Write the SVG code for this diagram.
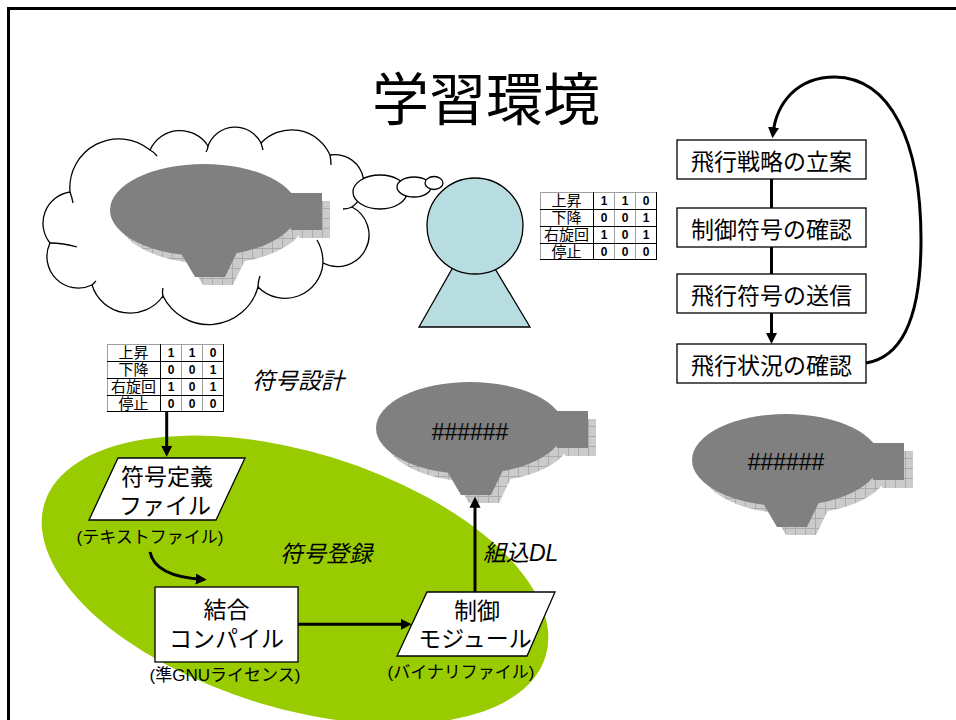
<svg xmlns="http://www.w3.org/2000/svg" width="956" height="720" viewBox="0 0 956 720">
<defs>
<style>
.t{font-family:"Liberation Sans","Noto Sans CJK JP",sans-serif;fill:#000}
.c{text-anchor:middle}
.title{font-size:57px}
.lbl{font-size:23px}
.sub{font-size:17px}
.it{font-size:23px;font-style:italic}
.hash{font-size:23px}
.cell{font-size:15px}
.num{font-size:12px;font-weight:bold}
.box{fill:#fff;stroke:#000;stroke-width:1.3}
.ship{fill:#808080}
.shadow{fill:url(#tex)}
.wire{fill:none;stroke:#000;stroke-width:3}
.arrow{marker-end:url(#ah)}
.gk{fill:none;stroke:#000;stroke-width:1}
.gg{fill:none;stroke:#a0a0a0;stroke-width:1}
.line{fill:none;stroke:#000;stroke-width:1.3}
.person{fill:#b8dde0;stroke:#000;stroke-width:1.3}
</style>
<pattern id="tex" width="10" height="10" patternUnits="userSpaceOnUse">
<rect width="10" height="10" fill="#cbcbcb"/>
<path d="M0 0.5H10M0.5 0V10" stroke="#acacac" stroke-width="1"/>
</pattern>
<marker id="ah" viewBox="0 0 10 10" refX="7" refY="5" markerWidth="3.7" markerHeight="3.7" orient="auto" markerUnits="strokeWidth">
<path d="M0 0L10 5L0 10z" fill="#000"/>
</marker>
<!-- airship outline: envelope, tail fin, gondola -->
<g id="hull">
<ellipse cx="0" cy="0" rx="94" ry="46"/>
<rect x="87" y="-17" width="31" height="37"/>
<polygon points="-26,38 35,38 21,67 -9,67"/>
</g>
</defs>

<!-- slide frame -->
<path d="M8.5 720V8.5H956" fill="none" stroke="#000" stroke-width="3"/>

<text class="t c title" x="486" y="120">学習環境</text>

<!-- thought cloud -->
<g id="thought-cloud">
<path class="box" d="M70,192 A49 49 0 0 1 150,150 A33 33 0 0 1 208,146 A29 29 0 0 1 261,143 A42 42 0 0 1 330,155 A29 29 0 0 1 352,207 A31.5 31.5 0 0 1 323,263 A38 38 0 0 1 258,287 A51 51 0 0 1 163,296 A40 40 0 0 1 92,285 A31.5 31.5 0 0 1 50,243 A31.5 31.5 0 0 1 70,192 Z"/>
<path class="line" d="M70,192 Q72,197 73,203 M150,150 Q154,152 157,156 M208,146 Q208,149 206,152 M261,143 Q262,146 263,150 M330,155 Q331,160 331,165 M352,207 Q348,209 343,209 M323,263 Q323,250 317,240 M258,287 Q258,281 260,276 M163,296 Q162,292 163,288 M92,285 Q94,283 96,281 M50,243 Q63,243 77,247"/>
<ellipse class="box" cx="380" cy="192" rx="27" ry="17"/>
<ellipse class="box" cx="414" cy="187" rx="17" ry="10"/>
<ellipse class="box" cx="434" cy="183" rx="9" ry="6.5"/>
</g>

<!-- imagined airship -->
<g id="airship-idea">
<use href="#hull" x="212" y="218" class="shadow"/>
<use href="#hull" x="204" y="210" class="ship"/>
</g>

<!-- learner -->
<g id="person">
<polygon class="person" points="473,232 530,327 419,327"/>
<circle class="person" cx="475" cy="226" r="48"/>
</g>

<!-- code table next to the learner -->
<g id="code-table-a" transform="translate(540,192)">
<rect width="117" height="68" fill="#fff"/>
<path class="gg" d="M0 0.5H117M0.5 0V68M74.5 0V68M95.5 0V68"/>
<path class="gk" d="M0 17.5H117M0 34.5H117M0 51.5H117M53.5 0V68M116.5 0V68M0 67.5H117"/>
<text class="t c cell" x="26.5" y="14.2">上昇</text>
<text class="t c cell" x="26.5" y="31.2">下降</text>
<text class="t c cell" x="26.5" y="48.2">右旋回</text>
<text class="t c cell" x="26.5" y="65.2">停止</text>
<text class="t c num" x="64" y="12.8">1</text><text class="t c num" x="85" y="12.8">1</text><text class="t c num" x="106" y="12.8">0</text>
<text class="t c num" x="64" y="29.8">0</text><text class="t c num" x="85" y="29.8">0</text><text class="t c num" x="106" y="29.8">1</text>
<text class="t c num" x="64" y="46.8">1</text><text class="t c num" x="85" y="46.8">0</text><text class="t c num" x="106" y="46.8">1</text>
<text class="t c num" x="64" y="63.8">0</text><text class="t c num" x="85" y="63.8">0</text><text class="t c num" x="106" y="63.8">0</text>
</g>

<!-- flight loop -->
<g id="step-plan"><rect class="box" x="677" y="140" width="189" height="39"/><text class="t c lbl" x="771.5" y="170">飛行戦略の立案</text></g>
<g id="step-check-code"><rect class="box" x="677" y="208" width="189" height="39"/><text class="t c lbl" x="771.5" y="238">制御符号の確認</text></g>
<g id="step-send"><rect class="box" x="677" y="274" width="189" height="39"/><text class="t c lbl" x="771.5" y="304">飛行符号の送信</text></g>
<g id="step-observe"><rect class="box" x="677" y="344" width="189" height="39"/><text class="t c lbl" x="771.5" y="374">飛行状況の確認</text></g>

<!-- code registration area -->
<g id="registration-area">
<ellipse cx="295" cy="580" rx="262" ry="128" transform="rotate(17 295 580)" fill="#99cc00"/>
<text class="t it" x="280" y="562">符号登録</text>
</g>

<text class="t it" x="252" y="389">符号設計</text>

<!-- code table used for design -->
<g id="code-table-b" transform="translate(107,344)">
<rect width="117" height="68" fill="#fff"/>
<path class="gg" d="M0 0.5H117M0.5 0V68M74.5 0V68M95.5 0V68"/>
<path class="gk" d="M0 17.5H117M0 34.5H117M0 51.5H117M53.5 0V68M116.5 0V68M0 67.5H117"/>
<text class="t c cell" x="26.5" y="14.2">上昇</text>
<text class="t c cell" x="26.5" y="31.2">下降</text>
<text class="t c cell" x="26.5" y="48.2">右旋回</text>
<text class="t c cell" x="26.5" y="65.2">停止</text>
<text class="t c num" x="64" y="12.8">1</text><text class="t c num" x="85" y="12.8">1</text><text class="t c num" x="106" y="12.8">0</text>
<text class="t c num" x="64" y="29.8">0</text><text class="t c num" x="85" y="29.8">0</text><text class="t c num" x="106" y="29.8">1</text>
<text class="t c num" x="64" y="46.8">1</text><text class="t c num" x="85" y="46.8">0</text><text class="t c num" x="106" y="46.8">1</text>
<text class="t c num" x="64" y="63.8">0</text><text class="t c num" x="85" y="63.8">0</text><text class="t c num" x="106" y="63.8">0</text>
</g>

<g id="code-file">
<polygon class="box" points="118,458 245,458 216,520 89,520"/>
<text class="t c lbl" x="167" y="485">符号定義</text>
<text class="t c lbl" x="165" y="514">ファイル</text>
<text class="t c sub" x="150" y="543">(テキストファイル)</text>
</g>

<g id="compile">
<rect class="box" x="155" y="587" width="143" height="75"/>
<text class="t c lbl" x="226.5" y="618">結合</text>
<text class="t c lbl" x="226.5" y="647">コンパイル</text>
<text class="t c sub" x="225" y="681">(準GNUライセンス)</text>
</g>

<g id="control-module">
<polygon class="box" points="427,592 555,592 527,656 397,656"/>
<text class="t c lbl" x="477" y="619">制御</text>
<text class="t c lbl" x="475" y="647">モジュール</text>
<text class="t c sub" x="461" y="678">(バイナリファイル)</text>
</g>

<g id="airship-onboard">
<use href="#hull" x="478" y="436" class="shadow"/>
<use href="#hull" x="470" y="428" class="ship"/>
<text class="t c hash" x="470" y="440">######</text>
</g>

<g id="airship-flight">
<use href="#hull" x="795" y="468" class="shadow"/>
<use href="#hull" x="786" y="460" class="ship"/>
<text class="t c hash" x="786" y="470">######</text>
</g>

<text class="t it" x="483" y="561">組込DL</text>

<!-- connectors -->
<g id="connectors">
<path class="wire" d="M771.5,179V208"/>
<path class="wire" d="M771.5,247V274"/>
<path class="wire arrow" d="M771.5,313V340.7"/>
<path class="wire arrow" d="M866,363C910,356 921,300 921,240C921,140 890,78 835,77C797,77 776,103 772.8,135"/>
<path class="wire arrow" d="M166.7,412V453.4"/>
<path class="wire arrow" d="M150,552C154,572 178,578 203.5,579.5"/>
<path class="wire arrow" d="M298,624.3H408.4"/>
<path class="wire arrow" d="M475,592V500"/>
</g>
</svg>
